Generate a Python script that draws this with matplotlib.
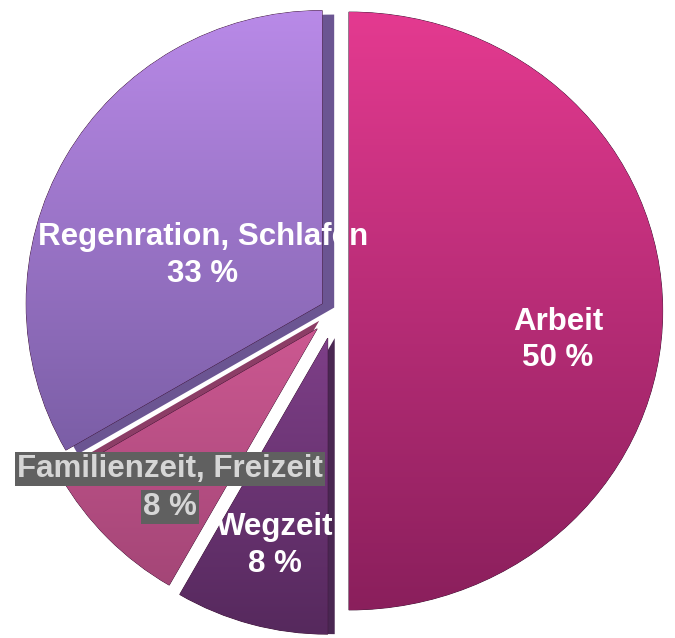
import numpy as np
import matplotlib.pyplot as plt
from matplotlib.colors import LinearSegmentedColormap
from matplotlib.transforms import Affine2D

labels = ["Arbeit", "Wegzeit", "Familienzeit, Freizeit", "Regenration, Schlafen"]
hours = [12, 2, 2, 8]
explode = [0.047, 0.095, 0.085, 0.05]
top_colors = ["#e43a90", "#7e3f88", "#cc5891", "#b98ae8"]
bottom_colors = ["#8a1f5c", "#56295d", "#a44677", "#7b5ea6"]
side_colors = ["#6a1a48", "#4a2752", "#8c3d66", "#6b5592"]
side_shift = [(0, 0), (7, 0), (2, 8), (12, -4)]
label_pos = [(558, 340), (275, 546), (170, 488), (203, 256)]
stretch = [(1.06, 1.01), (1.0, 1.0), (1.0, 1.0), (1.0, 0.99)]

W, H = 675, 638
fig = plt.figure(figsize=(6.75, 6.38), dpi=100)
ax = fig.add_axes([0, 0, 1, 1])

cx, cy = 335, H - 311
R = 296
expl = [e * R for e in explode]  # pie's explode is in data units


def widen(w, s):
    c = w.center
    w.set_transform(Affine2D().translate(-c[0], -c[1]).scale(s[0], s[1])
                    .translate(c[0], c[1]) + ax.transData)


# side walls (drawn first, shifted)
sides, _ = ax.pie(hours, explode=expl, radius=R, center=(cx, cy), startangle=90,
                  counterclock=False, colors=side_colors, frame=True)
for i, w in enumerate(sides):
    c = w.center
    w.set_center((c[0] + side_shift[i][0], c[1] + side_shift[i][1]))
    widen(w, stretch[i])
    if i == 0:
        w.set_visible(False)

faces, _ = ax.pie(hours, explode=expl, radius=R, center=(cx, cy), startangle=90,
                  counterclock=False, colors=bottom_colors, frame=True,
                  wedgeprops=dict(edgecolor="#3a1030", linewidth=0.6))
for i, w in enumerate(faces):
    widen(w, stretch[i])
    w.set_zorder(2)
    ext = w.get_path().get_extents()
    c = w.center
    sx, sy = stretch[i]
    x0 = c[0] + (ext.x0 - c[0]) * sx
    x1 = c[0] + (ext.x1 - c[0]) * sx
    y0 = c[1] + (ext.y0 - c[1]) * sy
    y1 = c[1] + (ext.y1 - c[1]) * sy
    cmap = LinearSegmentedColormap.from_list("g%d" % i, [bottom_colors[i], top_colors[i]])
    grad = np.linspace(0, 1, 256).reshape(-1, 1)
    im = ax.imshow(grad, cmap=cmap, origin="lower", aspect="auto",
                   extent=(x0, x1, y0, y1), zorder=3)
    im.set_clip_path(w)

bold = dict(family=["Liberation Sans", "DejaVu Sans"], fontweight="bold", fontsize=22.5,
            ha="center", va="center", zorder=5)
pct = [100 * h / sum(hours) for h in hours]
for i, (x, y) in enumerate(label_pos):
    yd = H - y
    if i == 2:
        box = dict(facecolor="#606060", edgecolor="none", pad=1.5)
        ax.text(x, yd + 19, labels[i], color="#d6d6d6", bbox=box, **bold)
        ax.text(x, yd - 19, "%.0f %%" % pct[i], color="#d6d6d6", bbox=box, **bold)
    else:
        ax.text(x, yd + 18.5, labels[i], color="white", **bold)
        ax.text(x, yd - 18.5, "%.0f %%" % pct[i], color="white", **bold)

ax.set_xlim(0, W)
ax.set_ylim(0, H)
ax.set_aspect("equal")
ax.axis("off")
fig.savefig("out.png", dpi=100, facecolor="white")
